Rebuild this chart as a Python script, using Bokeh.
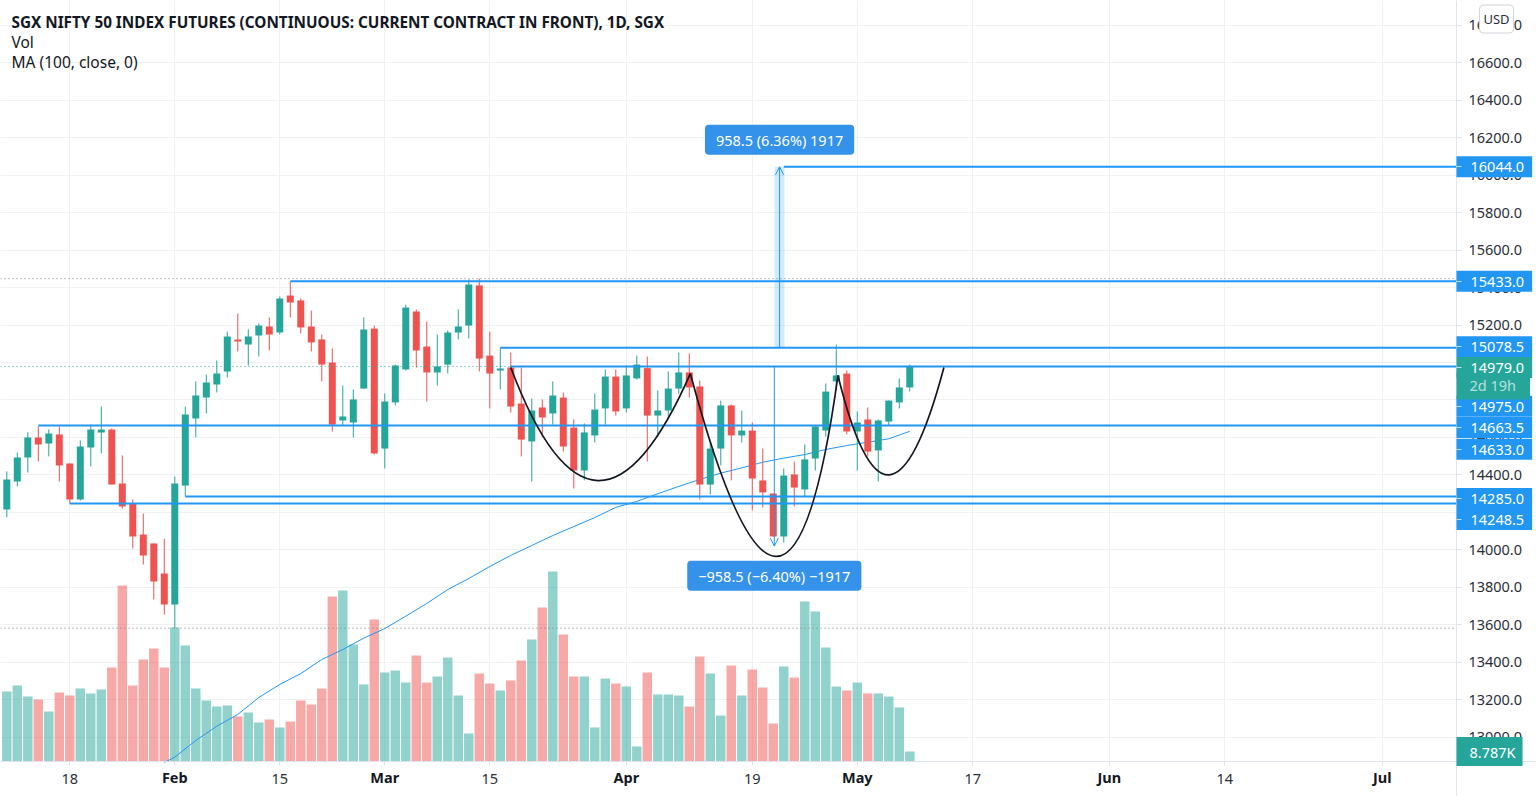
from bokeh.plotting import figure
from bokeh.models import (Range1d, FixedTicker, Label, Arrow, OpenHead, LinearAxis,
                          ColumnDataSource, NumeralTickFormatter)
from bokeh.embed import file_html
from bokeh.resources import INLINE

open_ = [14216,14365,14493,14600,14568,14616,14461,14269,14547,14627,
         14643,14355,14248,14083,14035,13875,13709,14344,14701,14813,
         14883,14952,15123,15096,15144,15192,15160,15357,15331,15192,
         15123,15000,14691,14680,14861,15181,14541,14787,14963,15272,
         15085,14947,14989,15160,15197,15411,15037,14957,14973,14781,
         14579,14760,14728,14813,14653,14424,14611,14755,14925,14755,
         14915,14970,14717,14744,14861,14947,14872,14349,14541,14771,
         14611,14637,14371,14301,14072,14403,14323,14488,14637,14899,
         14941,14632,14696,14531,14685,14787,14867]
close = [14376,14493,14600,14563,14621,14451,14269,14552,14643,14643,
         14349,14232,14072,13971,13832,13709,14355,14723,14824,14893,
         14941,15139,15112,15139,15197,15149,15341,15320,15187,15107,
         14989,14669,14712,14803,15176,14515,14792,14984,15293,15064,
         14947,14979,15160,15192,15416,15021,14941,14968,14765,14589,
         14744,14707,14824,14552,14424,14627,14749,14925,14739,14931,
         14989,14717,14744,14861,14947,14867,14349,14541,14771,14611,
         14637,14381,14307,14072,14397,14333,14483,14659,14845,14931,
         14632,14680,14525,14691,14797,14867,14979]
high = [14419,14520,14627,14659,14643,14659,14461,14584,14669,14765,
        14648,14504,14269,14195,14035,14061,14392,14765,14899,14936,
        15011,15165,15261,15176,15208,15240,15352,15433,15341,15277,
        15149,15075,14877,14856,15240,15197,14835,14989,15309,15283,
        15219,15149,15171,15283,15443,15447,15165,15078.5,15053,14973,
        14808,14803,14899,14840,14696,14675,14835,14963,14963,14984,
        15037,15032,14851,14952,15053,15048,14904,14579,14797,14776,
        14744,14680,14541,14301,14435,14472,14563,14659,14888,15096,
        14957,14739,14760,14696,14797,14915,14989]
low = [14175,14339,14413,14472,14499,14365,14248.5,14264,14445,14515,
       14349,14221,14008,13923,13736,13656,13583,14285,14600,14728,
       14840,14920,15059,14984,15032,15064,15149,15240,15155,15059,
       14899,14632,14664,14600,14861,14509,14435,14771,14957,14973,
       14792,14877,14941,15123,15128,14952,14755,14856,14733,14499,
       14365,14602,14669,14525,14328,14371,14573,14669,14717,14733,
       14909,14472,14605,14696,14833,14813,14269,14296,14451,14371,
       14573,14211,14227,14072,14040,14232,14285,14424,14605,14851,
       14616,14424,14499,14365,14664,14755,14845]
volume_k = [61.5,66.8,57.1,54.5,43.9,60.6,58.0,64.1,59.8,63.3,
            82.6,154.7,66.8,89.6,99.3,82.6,117.7,101.9,64.1,53.6,
            48.3,49.2,39.5,43.1,34.3,36.9,29.9,35.1,53.6,50.1,
            64.1,145.0,150.3,102.8,67.7,124.8,78.2,80.0,69.4,93.1,
            69.4,74.7,91.4,58.0,24.6,77.3,68.5,62.4,71.2,88.7,
            107.2,135.3,167.0,111.6,74.7,74.7,29.9,72.9,68.5,65.9,
            13.2,78.2,58.9,58.9,58.0,48.3,92.3,77.3,40.4,84.4,
            58.0,80.8,65.0,33.4,83.5,73.8,140.6,131.8,100.2,65.9,
            62.4,69.4,59.8,59.8,57.1,47.5,8.787]
ma_index = [15,16,18,20,22,24,26,28,30,32,34,36,38,40,42,44,46,48,50,52,54,56,58,
            60,62,64,66,68,70,72,74,76,78,80,82,84,86]
ma_value = [12867,12895,12984,13060,13123,13213,13283,13341,13416,13469,13530,13581,
            13647,13715,13789,13848,13912,13971,14024,14077,14125,14173,14227,
            14259,14300,14339,14376,14410,14438,14468,14490,14509,14536,14557,14575,14593,14633]

day_ticks = {6: "18", 26: "15", 46: "15", 71: "19", 92: "17", 116: "14"}
month_ticks = {16: "Feb", 36: "Mar", 59: "Apr", 81: "May", 105: "Jun", 131: "Jul"}
price_ticks = [13000 + 200 * k for k in range(20)]

ray_start = [74, 27, 47, 48, 3, 17, 6]
ray_value = [16044, 15433, 15078.5, 14979, 14663.5, 14285, 14248.5]
curve_x0 = [48, 65.1, 79.16]
curve_y0 = [14973, 14941, 14931]
curve_cx = [56, 74.4, 83.9]
curve_cy = [13784, 12995, 13850]
curve_x1 = [65.1, 79.16, 89.25]
curve_y1 = [14941, 14931, 14973]
range_high, range_low, last_price = 15447, 13583, 14979
measure_up = (73.6, 15078.5, 16044)
measure_down = (73.1, 14979, 14020.5)

title_lines = ["SGX NIFTY 50 INDEX FUTURES (CONTINUOUS: CURRENT CONTRACT IN FRONT), 1D, SGX", "Vol", "MA (100, close, 0)"]
tag_text = ["16044.0", "15433.0", "15078.5", "14975.0", "14663.5", "14633.0", "14285.0", "14248.5"]
tag_value = [16044, 15433, 15078.5, 14975, 14663.5, 14633, 14285, 14248.5]
tag_shift = [0, 0, -1, 39, 2, 18, 2, 16]

GREEN, RED, BLUE = "#26a69a", "#ef5350", "#2196f3"
TEXT = "#2a2e39"
FONT = "Noto Sans"
GRID = "#f0f1f3"
AXIS = "#e0e3eb"
SIZE = "14.5px"
PRICE_PER_PX = 5.3333

X_LEFT, X_AXIS, X_RIGHT = -0.6, 138.06, 145.69
Y_BOTTOM, Y_AXIS, Y_TOP = 12685.3, 12872, 16930.7

idx = list(range(len(close)))
colors = [GREEN if c >= o else RED for o, c in zip(open_, close)]
src = ColumnDataSource(dict(i=idx, o=open_, c=close, h=high, l=low, v=volume_k, color=colors))

p = figure(width=1536, height=796, output_backend="svg", toolbar_location=None,
           x_range=Range1d(X_LEFT, X_RIGHT), y_range=Range1d(Y_BOTTOM, Y_TOP),
           y_axis_location="right", min_border_left=0, min_border_top=0,
           min_border_right=0, min_border_bottom=0, background_fill_color="white",
           outline_line_color=None)
p.extra_y_ranges = {"vol": Range1d(-30.75, 668.7)}

p.yaxis.fixed_location = X_AXIS
p.yaxis.ticker = FixedTicker(ticks=price_ticks)
p.yaxis.formatter = NumeralTickFormatter(format="0.0")
p.yaxis.major_label_text_font = FONT
p.yaxis.major_label_text_font_size = SIZE
p.yaxis.major_label_text_color = TEXT
p.yaxis.major_tick_out = 5
p.yaxis.major_tick_in = 0
p.yaxis.minor_tick_out = 0
p.yaxis.minor_tick_in = 0
p.yaxis.major_tick_line_color = AXIS
p.yaxis.axis_line_color = AXIS
p.yaxis.major_label_standoff = 7

all_ticks = sorted(list(day_ticks) + list(month_ticks))
p.xaxis.fixed_location = Y_AXIS
p.xaxis.ticker = FixedTicker(ticks=list(day_ticks))
p.xaxis.major_label_overrides = day_ticks
p.xaxis.major_label_text_font = FONT
p.xaxis.major_label_text_font_size = SIZE
p.xaxis.major_label_text_color = TEXT
p.xaxis.major_tick_out = 4
p.xaxis.major_tick_in = 0
p.xaxis.minor_tick_out = 0
p.xaxis.minor_tick_in = 0
p.xaxis.major_tick_line_color = AXIS
p.xaxis.axis_line_color = AXIS
p.xaxis.major_label_standoff = 9

month_axis = LinearAxis(fixed_location=Y_AXIS, ticker=FixedTicker(ticks=list(month_ticks)),
                        major_label_overrides=month_ticks, major_label_text_font=FONT,
                        major_label_text_font_size=SIZE, major_label_text_font_style="bold",
                        major_label_text_color="#131722", major_tick_out=4, major_tick_in=0,
                        minor_tick_out=0, minor_tick_in=0, major_tick_line_color=AXIS,
                        axis_line_color=None, major_label_standoff=2)
p.add_layout(month_axis, "below")

p.xgrid[0].ticker = FixedTicker(ticks=all_ticks)
p.ygrid[0].ticker = FixedTicker(ticks=price_ticks)
p.xgrid[0].cross_bounds = (Y_AXIS, Y_TOP)
p.ygrid[0].cross_bounds = (X_LEFT, X_AXIS)
p.xgrid[0].grid_line_color = GRID
p.ygrid[0].grid_line_color = GRID
p.xgrid[0].grid_line_width = 1
p.ygrid[0].grid_line_width = 1

# volume below everything else
p.vbar(x="i", width=0.9, top="v", bottom=0, color="color", alpha=0.5, line_color=None,
       source=src, y_range_name="vol")
# moving average
p.line(ma_index, ma_value, line_color=BLUE, line_width=1)
# candles
p.segment(x0="i", x1="i", y0="l", y1="h", line_color="color", line_width=1, source=src)
p.vbar(x="i", width=0.667, top="o", bottom="c", fill_color="color", line_color=None, source=src)

# dotted price lines
for value, color in [(range_high, "#787b86"), (range_low, "#787b86"), (last_price, GREEN)]:
    p.line([X_LEFT, X_AXIS], [value, value], line_color=color, line_width=1, line_dash=[1, 3])

# horizontal rays
p.segment(x0=ray_start, x1=[X_AXIS] * len(ray_start), y0=ray_value, y1=ray_value,
          line_color=BLUE, line_width=2)

# cup and handle curves
p.quadratic(x0=curve_x0, y0=curve_y0, x1=curve_x1, y1=curve_y1, cx=curve_cx, cy=curve_cy,
            line_color="#131722", line_width=1.7)

# measure tools
p.vbar(x=[measure_up[0]], width=0.95, bottom=[measure_up[1]], top=[measure_up[2]],
       fill_color=BLUE, fill_alpha=0.2, line_color=None)
p.add_layout(Arrow(x_start=measure_up[0], y_start=measure_up[1], x_end=measure_up[0], y_end=measure_up[2],
                   line_color=BLUE, line_width=1,
                   end=OpenHead(size=8, line_color=BLUE, line_width=1)))
p.add_layout(Arrow(x_start=measure_down[0], y_start=measure_down[1], x_end=measure_down[0], y_end=measure_down[2],
                   line_color=BLUE, line_width=1,
                   end=OpenHead(size=8, line_color=BLUE, line_width=1)))
BOX = "#3592ea"
p.add_layout(Label(x=measure_up[0], y=measure_up[2], y_offset=27, text="958.5 (6.36%) 1917",
                   text_align="center", text_baseline="middle", text_color="white",
                   text_font=FONT, text_font_size=SIZE, background_fill_color=BOX,
                   border_radius=4, padding=(11, 5)))
p.add_layout(Label(x=measure_down[0], y=measure_down[2], y_offset=-29.5, text="\u2212958.5 (\u22126.40%) \u22121917",
                   text_align="center", text_baseline="middle", text_color="white",
                   text_font=FONT, text_font_size=SIZE, background_fill_color=BOX,
                   border_radius=4, padding=(11, 5)))

# legend text
for text, refy, style, size in zip(title_lines, [21, 41, 61], ["bold", "normal", "normal"], ["15.3px", "15.5px", "15.5px"]):
    p.add_layout(Label(x=11, y=796 - refy, x_units="screen", y_units="screen", text=text,
                       text_align="left", text_baseline="middle", text_color="#131722",
                       text_font=FONT, text_font_size=size, text_font_style=style))

# price tags
TAG_X = 1456
for text, value, shift in zip(tag_text, tag_value, tag_shift):
    p.add_layout(Label(x=TAG_X, y=value, y_offset=-shift, x_units="screen", text=text,
                       text_align="left", text_baseline="middle", text_color="white",
                       text_font=FONT, text_font_size=SIZE, background_fill_color=BLUE,
                       padding=(14, 8, 6, 5)))
p.add_layout(Label(x=TAG_X, y=last_price, y_offset=-19, x_units="screen", text="2d 19h",
                   text_align="left", text_baseline="middle", text_color="#b8e0dc",
                   text_font=FONT, text_font_size=SIZE, background_fill_color=GREEN,
                   padding=(13, 14, 4, 4)))
p.add_layout(Label(x=TAG_X, y=last_price, y_offset=-1, x_units="screen", text="14979.0",
                   text_align="left", text_baseline="middle", text_color="white",
                   text_font=FONT, text_font_size=SIZE, background_fill_color=GREEN,
                   padding=(14, 8, 6, 5)))
p.add_layout(Label(x=TAG_X, y=volume_k[-1], x_units="screen", y_range_name="vol", text="8.787K",
                   text_align="left", text_baseline="middle", text_color="white",
                   text_font=FONT, text_font_size=SIZE, background_fill_color=GREEN,
                   padding=(13, 7, 5, 4)))
p.add_layout(Label(x=1496, y=796 - 18.5, x_units="screen", y_units="screen", text="USD",
                   text_align="center", text_baseline="middle", text_color=TEXT,
                   text_font=FONT, text_font_size="13px", background_fill_color="white",
                   border_line_color="#d1d4dc", border_radius=4, padding=(4, 5)))

# small tick marks on top of the price tags
tag_ticks = [v - s * PRICE_PER_PX for v, s in zip(tag_value, tag_shift)] + [last_price - PRICE_PER_PX]
tick_axis = LinearAxis(fixed_location=X_AXIS, ticker=FixedTicker(ticks=tag_ticks),
                       major_label_overrides={t: "" for t in tag_ticks},
                       major_tick_out=5, major_tick_in=0, minor_tick_out=0, minor_tick_in=0,
                       major_tick_line_color="#ffffff", major_tick_line_alpha=0.7,
                       axis_line_color=None, level="overlay")
p.add_layout(tick_axis, "right")

open("out.html", "w").write(file_html(p, INLINE))
